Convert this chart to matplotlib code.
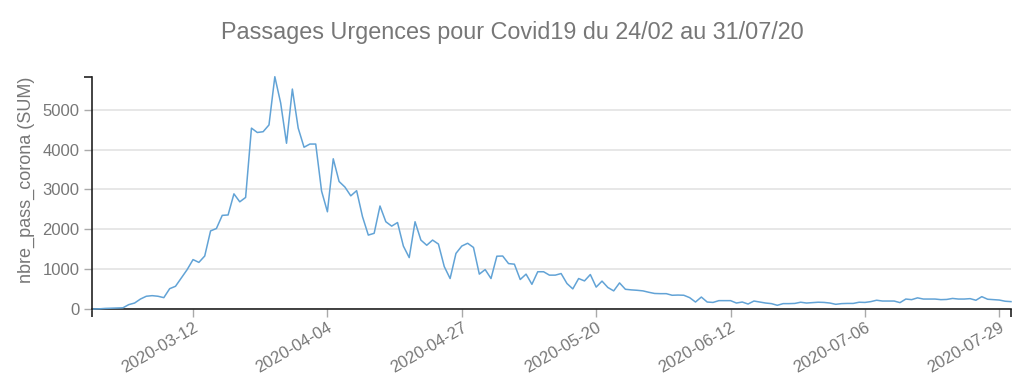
import numpy as np
import pandas as pd
import matplotlib
matplotlib.use("Agg")
import matplotlib.pyplot as plt

plt.rcParams['font.family'] = ['Liberation Sans', 'DejaVu Sans']

# daily sums (one date missing in late June in the source)
dates = [d.strftime("%Y-%m-%d") for d in pd.date_range("2020-02-24", "2020-07-31")
         if d.strftime("%Y-%m-%d") != "2020-06-21"]

nbre_pass_corona = [
    0, 5, 15, 20, 25, 30, 110, 150, 250, 320,
    335, 320, 285, 510, 570, 780, 990, 1240, 1170, 1330,
    1960, 2020, 2350, 2360, 2890, 2690, 2800, 4540, 4430, 4450,
    4620, 5830, 5170, 4160, 5520, 4540, 4060, 4140, 4140, 2960,
    2440, 3770, 3200, 3060, 2840, 2970, 2320, 1855, 1900, 2585,
    2190, 2080, 2170, 1580, 1290, 2190, 1730, 1600, 1730, 1630,
    1065, 765, 1395, 1580, 1650, 1545, 875, 990, 765, 1325,
    1330, 1140, 1125, 740, 875, 620, 935, 935, 850, 850,
    890, 640, 505, 765, 705, 865, 550, 700, 540, 455,
    655, 495, 480, 470, 455, 420, 390, 385, 385, 345,
    350, 345, 285, 175, 300, 175, 165, 210, 210, 210,
    150, 175, 125, 200, 175, 150, 135, 93, 135, 135,
    140, 170, 150, 160, 170, 165, 150, 118, 135, 140,
    140, 170, 165, 185, 220, 200, 200, 200, 160, 250,
    235, 280, 250, 250, 250, 235, 240, 265, 250, 250,
    260, 220, 310, 245, 235, 225, 195, 185,
]

tick_labels = ["2020-03-12", "2020-04-04", "2020-04-27", "2020-05-20",
               "2020-06-12", "2020-07-06", "2020-07-29"]
y_ticks = [0, 1000, 2000, 3000, 4000, 5000]

grey = "#777777"
x = np.arange(len(nbre_pass_corona))

fig = plt.figure(figsize=(10.24, 3.83), dpi=100)
ax = fig.add_axes([0.0898, 0.1932, 0.8975, 0.6065])

ax.plot(x, nbre_pass_corona, color="#62a3d6", lw=1.1, clip_on=False, zorder=3)

ax.set_xlim(-0.3, len(x) - 1)
ax.set_ylim(0, max(nbre_pass_corona))

ax.set_yticks(y_ticks)
ax.set_yticks([max(nbre_pass_corona)], minor=True)
ax.yaxis.grid(True, color="#e3e3e3", lw=1.2)
ax.set_axisbelow(True)
ax.tick_params(axis="y", which="major", length=6, width=1, color="#aaaaaa",
               labelsize=12, labelcolor=grey, pad=3)
ax.tick_params(axis="y", which="minor", length=6, width=1.2, color="#222222")

ax.set_xticks([dates.index(t) for t in tick_labels])
ax.set_xticklabels(tick_labels, rotation=30, ha="right", rotation_mode="anchor")
ax.set_xticks(ax.get_xlim(), minor=True)
ax.tick_params(axis="x", which="major", length=6, width=1, color="#aaaaaa",
               labelsize=12, labelcolor=grey, pad=2)
ax.tick_params(axis="x", which="minor", length=6, width=1.2, color="#222222")

for side in ["top", "right"]:
    ax.spines[side].set_visible(False)
for side in ["left", "bottom"]:
    ax.spines[side].set_color("#222222")
    ax.spines[side].set_linewidth(1.2)

ax.set_ylabel("nbre_pass_corona (SUM)", fontsize=13, color=grey)
ax.yaxis.set_label_coords(-0.062, 0.556)
fig.suptitle("Passages Urgences pour Covid19 du 24/02 au 31/07/20",
             fontsize=16.8, color=grey, y=0.945)

fig.savefig("out.png", dpi=100)
